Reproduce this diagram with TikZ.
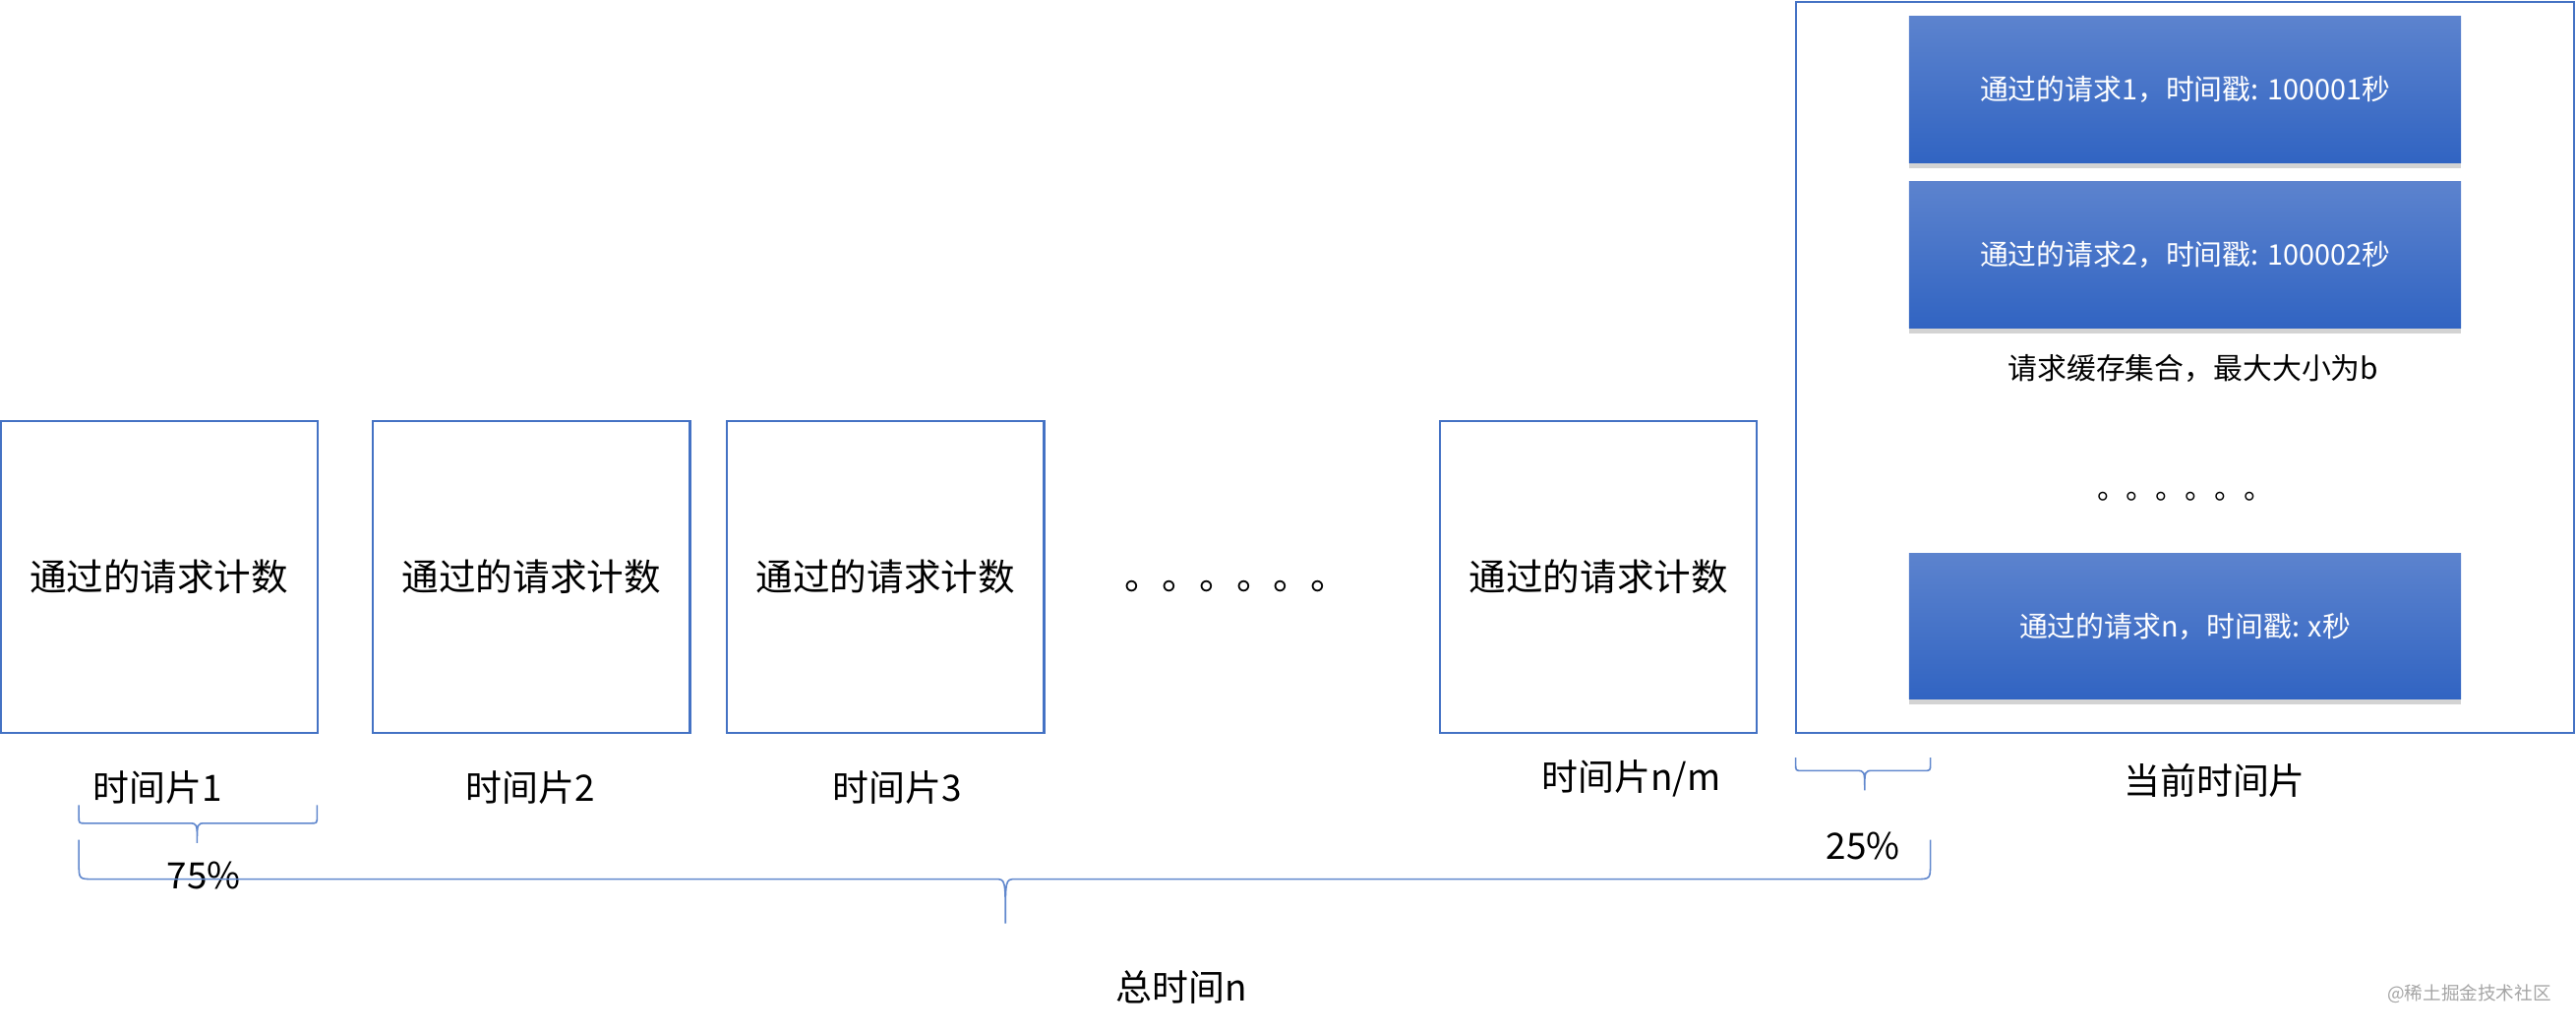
\documentclass[tikz,border=0pt]{standalone}
\usepackage{fontspec}
\setmainfont{Noto Sans CJK SC}
\usetikzlibrary{shadows}
\definecolor{boxblue}{RGB}{68,114,196}
\definecolor{reqtop}{RGB}{92,131,206}
\definecolor{reqbot}{RGB}{49,100,194}
\definecolor{markgray}{RGB}{165,165,165}
\tikzset{
  slot/.style={draw=boxblue, line width=0.6pt, minimum width=3.224cm, minimum height=3.174cm, inner sep=0pt, font=\fontsize{10.7}{13}\selectfont},
  req/.style={top color=reqtop, bottom color=reqbot, text=white, minimum width=5.612cm, minimum height=1.487cm, inner sep=0pt, drop shadow={shadow xshift=0pt, shadow yshift=-1.6pt, opacity=0.35}, font=\fontsize{8.2}{10}\selectfont},
  lab/.style={font=\fontsize{10.5}{12}\selectfont, inner sep=0pt},
  small/.style={font=\fontsize{8.5}{10}\selectfont, inner sep=0pt},
  bracepen/.style={draw=boxblue!85, line width=0.45pt},
}
\begin{document}
\begin{tikzpicture}[x=0.016703cm, y=-0.016703cm]
\useasboundingbox (0,0) rectangle (1568,628);
% time slices
\node[slot] (s1) at (96.75,351) {通过的请求计数};
\node[slot] (s2) at (323.5,351) {通过的请求计数};
\node[slot] (s3) at (539,351) {通过的请求计数};
\node[slot] (sm) at (973,351) {通过的请求计数};
\node[lab, font=\fontsize{10.8}{12}\selectfont, anchor=base west] (gap) at (684,359) {。。。。。。};
% current slice
\node[draw=boxblue, line width=0.6pt, minimum width=7.917cm, minimum height=7.433cm, inner sep=0pt] (cur) at (1330,223.5) {};
\node[req] (r1) at (1330,54.5) {通过的请求1，时间戳: 100001秒};
\node[req] (r2) at (1330,155) {通过的请求2，时间戳: 100002秒};
\node[small] (set) at (1335,224) {请求缓存集合，最大大小为b};
\node[small, anchor=base west] (more) at (1276,304) {。。。。。。};
\node[req] (rn) at (1330,381) {通过的请求n，时间戳: x秒};
% labels
\node[lab] (l1) at (96,479) {时间片1};
\node[lab] (l2) at (323,479) {时间片2};
\node[lab] (l3) at (546,479) {时间片3};
\node[lab] (lm) at (993,474) {时间片n/m};
\node[lab] (lc) at (1348,475) {当前时间片};
% braces
\draw[bracepen] (48,490) -- (48,497) .. controls (48,501) .. (52,501) -- (115,501) .. controls (120,501) .. (120,513)
  .. controls (120,501) .. (125,501) -- (189,501) .. controls (193,501) .. (193,497) -- (193,490);
\node[lab] (p75) at (124,533) {75\%};
\draw[bracepen] (1093,461) -- (1093,465) .. controls (1093,469) .. (1097,469) -- (1130,469) .. controls (1135,469) .. (1135,481)
  .. controls (1135,469) .. (1140,469) -- (1171,469) .. controls (1175,469) .. (1175,465) -- (1175,461);
\node[lab] (p25) at (1134,515) {25\%};
\draw[bracepen] (48,511) -- (48,525) .. controls (48,535) .. (57,535) -- (606,535) .. controls (612,535) .. (612,562)
  .. controls (612,535) .. (618,535) -- (1166,535) .. controls (1175,535) .. (1175,525) -- (1175,511);
\node[lab] (total) at (719,601) {总时间n};
\node[font=\fontsize{5.3}{6}\selectfont, text=markgray, inner sep=0pt] (mark) at (1503,605) {@稀土掘金技术社区};
\end{tikzpicture}
\end{document}
